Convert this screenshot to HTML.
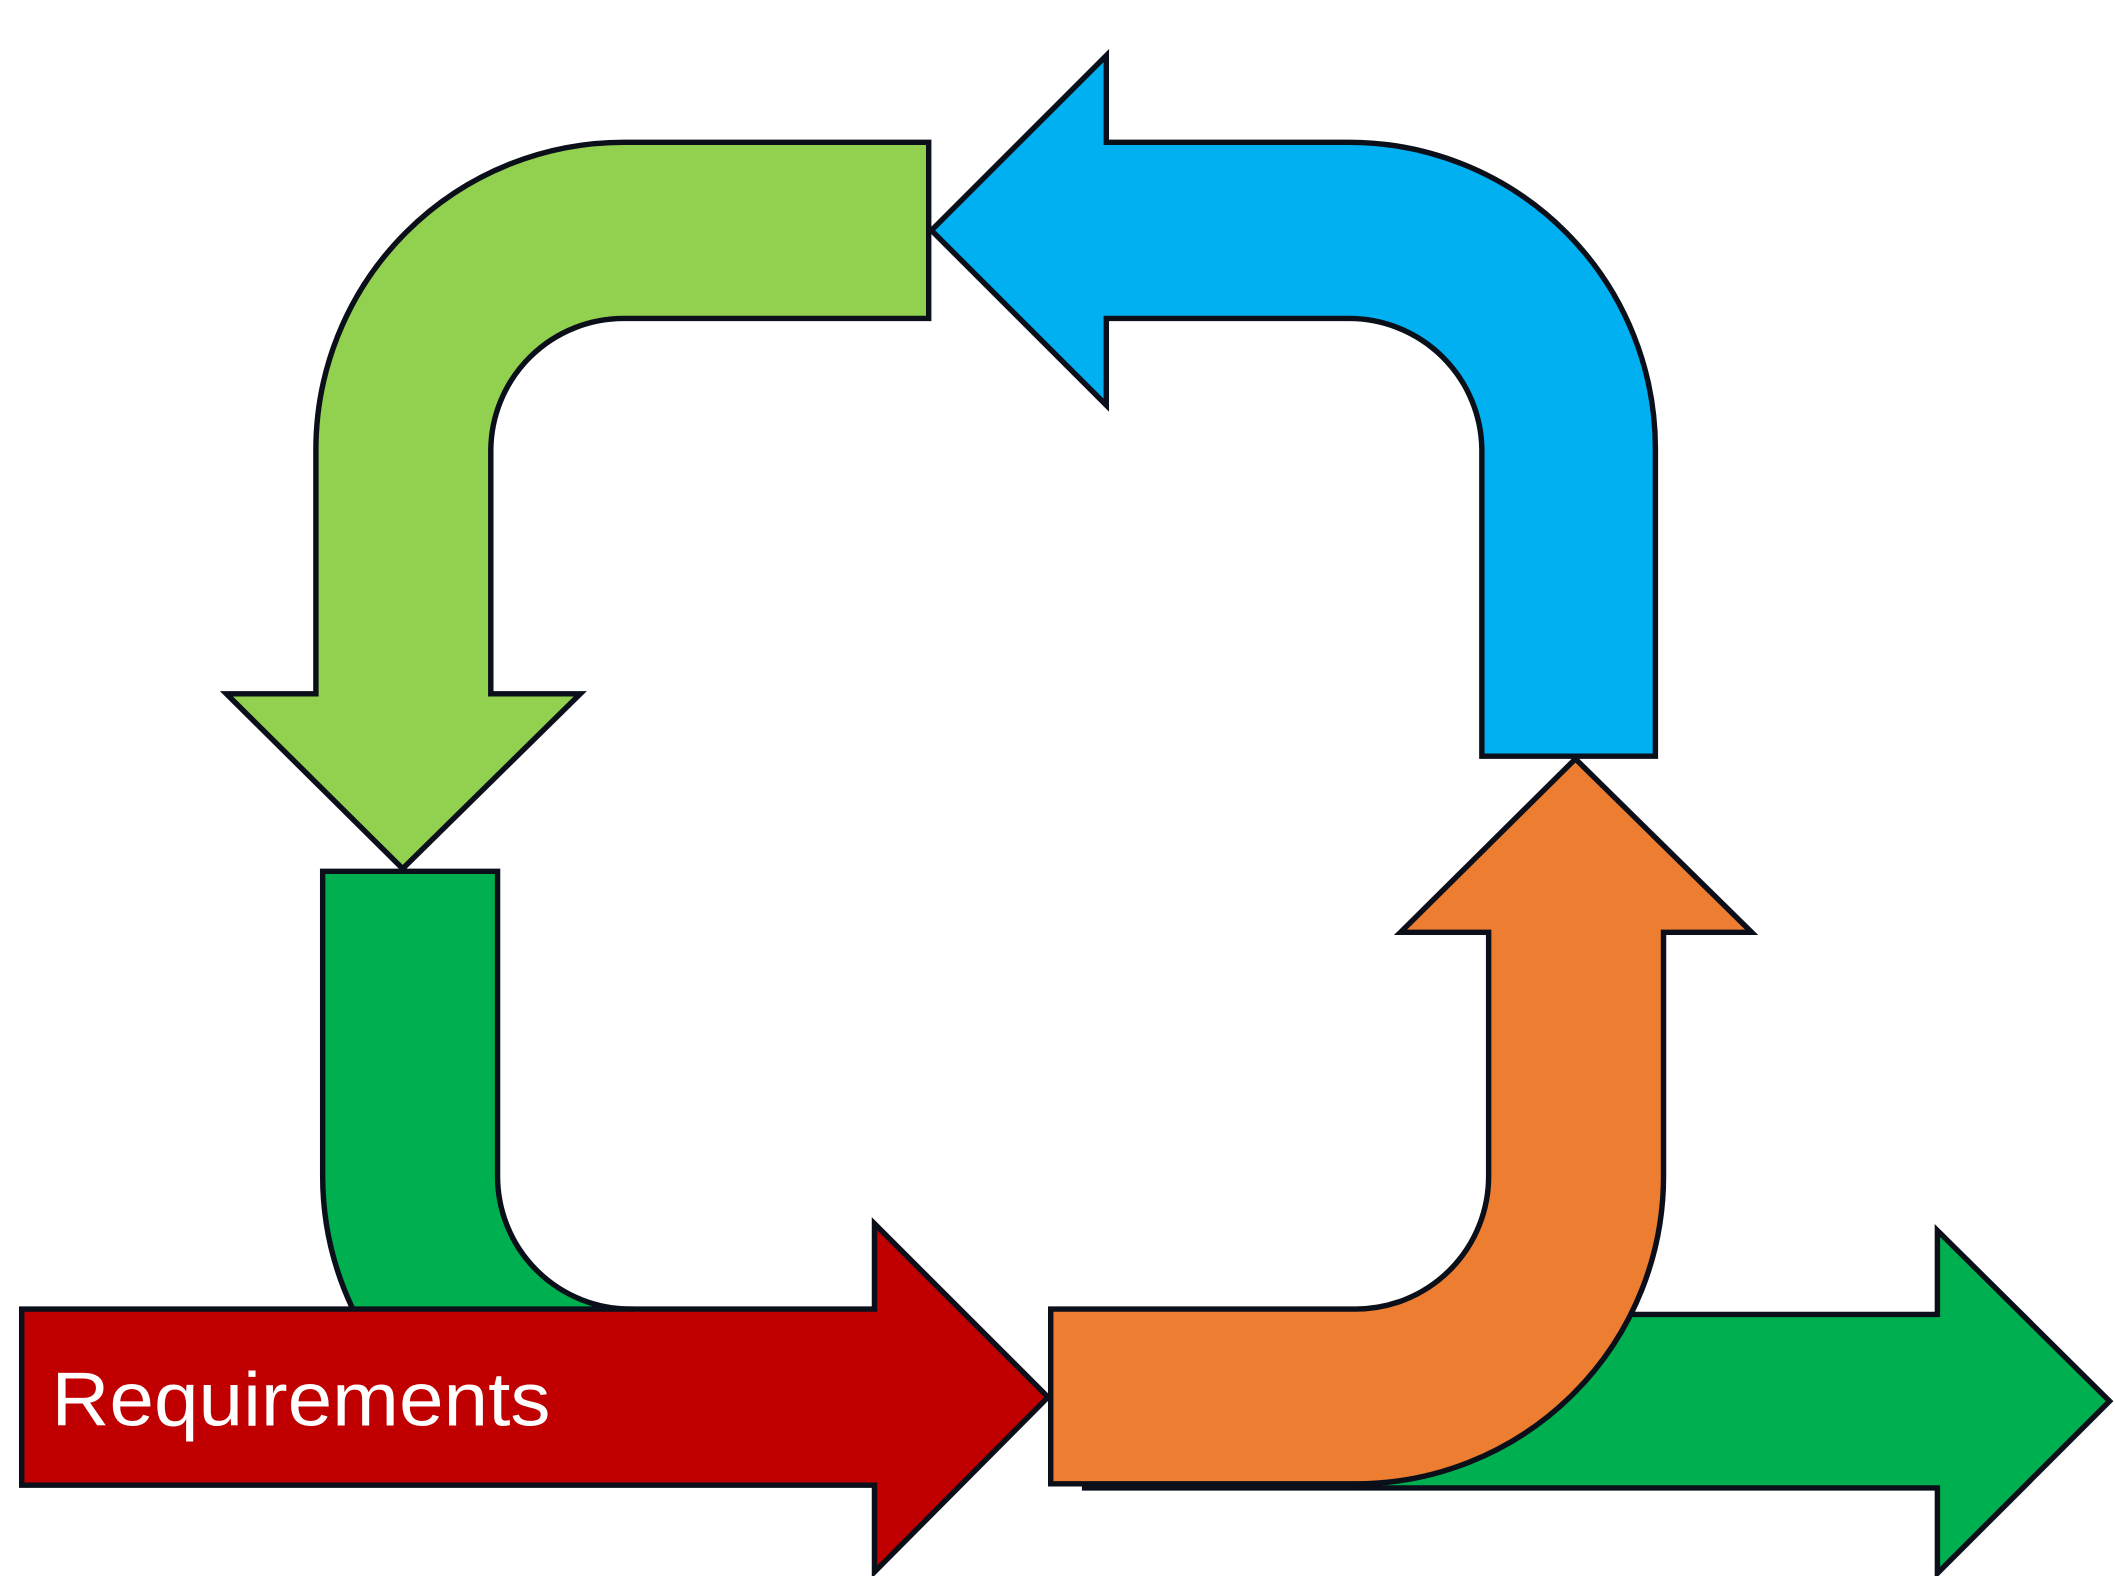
<!DOCTYPE html>
<html><head><meta charset="utf-8"><style>
html,body{margin:0;padding:0;background:#fff;}
svg{display:block;}
</style></head><body>
<svg width="2115" height="1576" viewBox="0 0 1560 1163" preserveAspectRatio="none" xmlns="http://www.w3.org/2000/svg">
<g stroke="#0a0f1a" stroke-width="4" stroke-linejoin="miter">
<path fill="#92D050" d="M685,105 L460,105 A227,227 0 0 0 233,332 L233,512 L167,512 L297,641 L428,512 L362,512 L362,332 A98,98 0 0 1 460,235 L685,235 Z"/>
<path fill="#00B0F0" d="M687,170 L816,41 L816,105 L995,105 A226,226 0 0 1 1221,331 L1221,558 L1093,558 L1093,331 A98,98 0 0 0 995,235 L816,235 L816,299 Z"/>
<path fill="#00B050" d="M238,643 L367,643 L367,868 A98,98 0 0 0 465,966 L465,1095 A227,227 0 0 1 238,868 Z"/>
<path fill="#C00000" d="M16,966 L645,966 L645,903 L773,1031 L645,1160 L645,1096 L16,1096 Z"/>
<path fill="#00B050" d="M800,970 L1429,970 L1429,908 L1556,1034 L1429,1161 L1429,1098 L800,1098 Z"/>
<path fill="#ED7D31" d="M775,966 L1000,966 A98,98 0 0 0 1098,868 L1098,688 L1033,688 L1162,560 L1292,688 L1227,688 L1227,868 A227,227 0 0 1 1000,1095 L775,1095 Z"/>
</g>
<text x="38" y="1052" fill="#fff" font-family="Liberation Sans, Arial, sans-serif" font-size="56" textLength="368" lengthAdjust="spacingAndGlyphs">Requirements</text>
</svg>
</body></html>
